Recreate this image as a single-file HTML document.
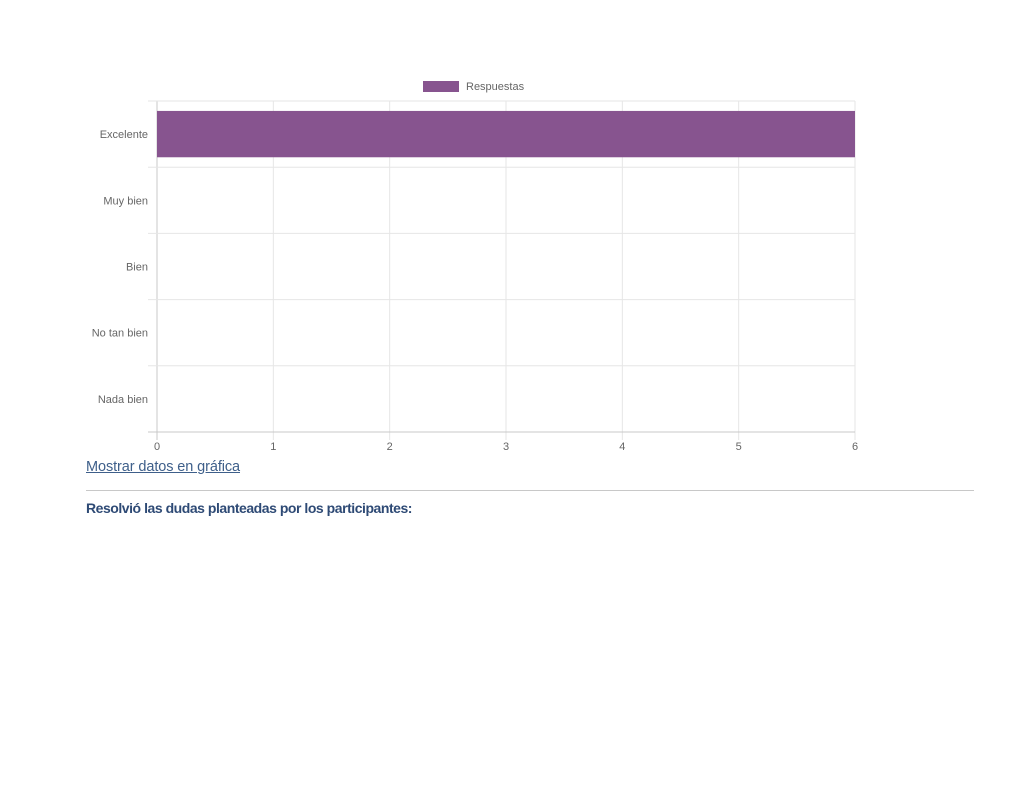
<!DOCTYPE html>
<html><head><meta charset="utf-8">
<style>
body{margin:0;background:#fff;width:1024px;height:790px;position:relative;font-family:"Liberation Sans",sans-serif;}
#chart{position:absolute;left:0;top:0;}
.link{position:absolute;left:86px;top:459px;font-size:14.5px;color:#3e5f8a;text-decoration:underline;font-family:"Liberation Sans",sans-serif;white-space:nowrap;}
.hr{position:absolute;left:86px;top:490px;width:888px;height:1px;background:#c8c8c8;}
.q{position:absolute;left:86px;top:500px;font-size:14px;font-weight:bold;color:#2e4a75;font-family:"Liberation Sans",sans-serif;white-space:nowrap;}
</style></head><body>
<svg id="chart" width="1024" height="480"></svg>
<a class="link" id="lnk" href="#">Mostrar datos en gráfica</a>
<div class="hr"></div>
<div class="q" id="qt">Resolvió las dudas planteadas por los participantes:</div>
<script>
const categories=["Excelente","Muy bien","Bien","No tan bien","Nada bien"];
const values=[6,0,0,0,0];
const xTicks=[0,1,2,3,4,5,6];
const seriesName="Respuestas";
const svg=document.getElementById('chart');
const NS="http://www.w3.org/2000/svg";
const L=157,R=855,T=101,B=432,xMax=6;
const x=v=>L+(R-L)*v/xMax;
const band=(B-T)/categories.length;
const y=i=>T+band*i;
function mk(tag,attrs){const e=document.createElementNS(NS,tag);for(const k in attrs)e.setAttribute(k,attrs[k]);svg.appendChild(e);return e;}
xTicks.forEach(t=>{
 const g=mk('line',{x1:x(t),x2:x(t),y1:T,y2:B+8,stroke:t===0?'#c8c8c8':'#e6e6e6','stroke-width':1});
 
 
 const tx=mk('text',{x:x(t),y:450,'font-size':11,fill:'#666','text-anchor':'middle'});
 tx.textContent=t;
 
 
});
for(let i=0;i<=categories.length;i++){
 const g=mk('line',{x1:148,x2:R,y1:y(i),y2:y(i),stroke:i===categories.length?'#c8c8c8':'#e6e6e6','stroke-width':1});
 
 
}
categories.forEach((c,i)=>{
 const tx=mk('text',{x:148,y:y(i)+band/2+4,'font-size':11,fill:'#666','text-anchor':'end'});
 tx.textContent=c;
 
 
 if(values[i]>0){
  const b=mk('rect',{x:x(0),y:y(i)+band*0.15,width:x(values[i])-x(0),height:band*0.7,fill:'#87548f'});
  
  
 }
});
const lb=mk('rect',{x:423,y:81,width:36,height:11,fill:'#87548f'});


const lt=mk('text',{x:466,y:90,'font-size':11,fill:'#666'});
lt.textContent=seriesName;


function fit(id,w){const e=document.getElementById(id);const n=e.textContent.length;const cur=e.getBoundingClientRect().width;e.style.letterSpacing=((w-cur)/n)+'px';}
fit('lnk',154);fit('qt',326);
</script>
</body></html>
